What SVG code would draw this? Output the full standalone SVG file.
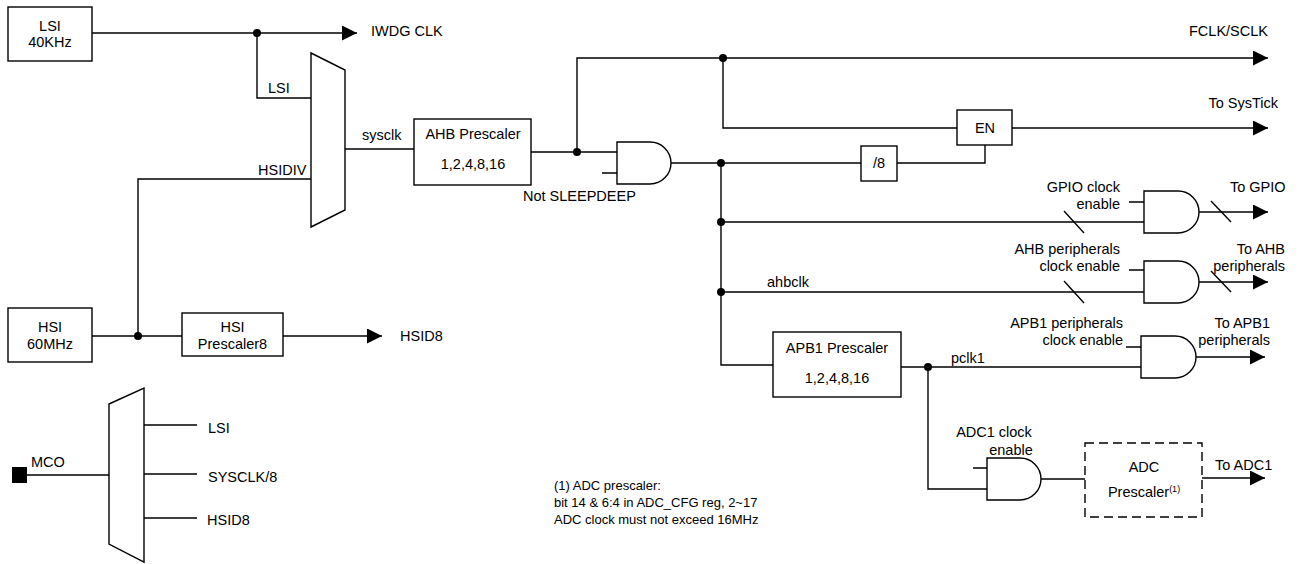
<svg xmlns="http://www.w3.org/2000/svg" width="1305" height="564" viewBox="0 0 1305 564">
<defs>
<marker id="arr" markerWidth="15" markerHeight="15" refX="15" refY="7.5" orient="auto" markerUnits="userSpaceOnUse">
<path d="M0,0 L15,7.5 L0,15 Z" fill="#000"/>
</marker>
</defs>
<style>
text{font-family:"Liberation Sans",Arial,sans-serif;font-size:14.5px;fill:#000}
.c{text-anchor:middle}
.r{text-anchor:end}
.s{font-size:13px}
.box{fill:#fff;stroke:#000;stroke-width:1.4}
.dash{fill:#fff;stroke:#000;stroke-width:1.4;stroke-dasharray:9 5}
.gate{fill:#fff;stroke:#000;stroke-width:1.4}
.w{fill:none;stroke:#000;stroke-width:1.4}
.a{marker-end:url(#arr)}
.dot{fill:#000}
</style>
<rect width="1305" height="564" fill="#fff"/>

<g id="connectors">
<path class="w a" d="M92,33 H357"/>
<path class="w" d="M257,33 V98 H311"/>
<path class="w" d="M345,149 H414"/>
<path class="w" d="M311,179 H138 V336"/>
<path class="w" d="M92,336 H182"/>
<path class="w a" d="M283,336 H382"/>
<path class="w" d="M27,475 H109"/>
<path class="w" d="M144,425 H197 M144,474 H197 M144,518 H197"/>
<path class="w" d="M531,152 H617 M602,173 H617"/>
<path class="w" d="M577,152 V58 H723"/>
<path class="w a" d="M723,58 H1268"/>
<path class="w" d="M723,58 V128 H957"/>
<path class="w a" d="M1012,128 H1268"/>
<path class="w" d="M671,163 H861"/>
<path class="w" d="M897,163 H985 V145"/>
<path class="w" d="M721,163 V365 H773"/>
<path class="w" d="M721,222 H1144 M1129,202 H1144"/>
<path class="w a" d="M1199,212 H1268"/>
<path class="w" d="M1064,211 L1084,233 M1211,201 L1231,222"/>
<path class="w" d="M721,292 H1144 M1129,270 H1144"/>
<path class="w a" d="M1199,282 H1268"/>
<path class="w" d="M1064,281 L1084,303 M1211,271 L1231,292"/>
<path class="w" d="M901,367 H1141 M1126,347 H1141"/>
<path class="w a" d="M1196,357 H1265"/>
<path class="w" d="M928,367 V489 H987 M973,468 H987"/>
<path class="w" d="M1041,479 H1085"/>
<path class="w a" d="M1202,478 H1265"/>
<circle class="dot" cx="257" cy="33" r="4"/>
<circle class="dot" cx="138" cy="336" r="4"/>
<circle class="dot" cx="577" cy="152" r="4"/>
<circle class="dot" cx="723" cy="58" r="4"/>
<circle class="dot" cx="721" cy="163" r="4"/>
<circle class="dot" cx="721" cy="222" r="4"/>
<circle class="dot" cx="721" cy="292" r="4"/>
<circle class="dot" cx="928" cy="367" r="4"/>
</g>

<g id="lsi"><rect class="box" x="8" y="7" width="84" height="54"/><text class="c" x="50" y="31">LSI</text><text class="c" x="50" y="47">40KHz</text></g>
<g id="hsi"><rect class="box" x="8" y="308" width="84" height="54"/><text class="c" x="50" y="332">HSI</text><text class="c" x="50" y="349">60MHz</text></g>
<g id="hsi-prescaler8"><rect class="box" x="182" y="313" width="101" height="43"/><text class="c" x="232.5" y="332">HSI</text><text class="c" x="232.5" y="349">Prescaler8</text></g>
<g id="sysclk-mux"><polygon class="box" points="311,53 345,70 345,210 311,227"/></g>
<g id="mco-mux"><polygon class="box" points="109,404 144,388 144,562 109,544"/></g>
<g id="mco-pin"><rect x="12" y="467" width="15" height="16" fill="#000"/></g>
<g id="ahb-prescaler"><rect class="box" x="414" y="119" width="117" height="66"/><text class="c" x="473" y="139">AHB Prescaler</text><text class="c" x="473" y="169">1,2,4,8,16</text></g>
<g id="gate-sleep"><path class="gate" d="M617,142 H650 A21,21 0 0 1 650,184 H617 Z"/></g>
<g id="div8"><rect class="box" x="861" y="146" width="36" height="35"/><text class="c" x="879" y="168">/8</text></g>
<g id="en"><rect class="box" x="957" y="110" width="55" height="35"/><text class="c" x="985" y="133">EN</text></g>
<g id="gate-gpio"><path class="gate" d="M1144,191 H1178 A21,21 0 0 1 1178,233 H1144 Z"/></g>
<g id="gate-ahb"><path class="gate" d="M1144,261 H1178 A21,21 0 0 1 1178,303 H1144 Z"/></g>
<g id="gate-apb1"><path class="gate" d="M1141,336 H1175 A21,21 0 0 1 1175,378 H1141 Z"/></g>
<g id="apb1-prescaler"><rect class="box" x="773" y="332" width="128" height="65"/><text class="c" x="837" y="353">APB1 Prescaler</text><text class="c" x="837" y="383">1,2,4,8,16</text></g>
<g id="gate-adc"><path class="gate" d="M987,458 H1020 A21,21 0 0 1 1020,500 H987 Z"/></g>
<g id="adc-prescaler"><rect class="dash" x="1085" y="443" width="117" height="74"/><text class="c" x="1144" y="472">ADC</text><text class="c" x="1144" y="497">Prescaler<tspan font-size="9" dy="-5">(1)</tspan></text></g>

<g id="labels">
<text x="371" y="36">IWDG CLK</text>
<text x="268" y="93">LSI</text>
<text x="362" y="140">sysclk</text>
<text x="258" y="175">HSIDIV</text>
<text x="400" y="341">HSID8</text>
<text x="31" y="467">MCO</text>
<text x="208" y="433">LSI</text>
<text x="208" y="482">SYSCLK/8</text>
<text x="207" y="525">HSID8</text>
<text x="523" y="201">Not SLEEPDEEP</text>
<text class="r" x="1268" y="36">FCLK/SCLK</text>
<text class="r" x="1278" y="108">To SysTick</text>
<text class="r" x="1120" y="192">GPIO clock</text>
<text class="r" x="1120" y="209">enable</text>
<text x="1230" y="192">To GPIO</text>
<text class="r" x="1120" y="254">AHB peripherals</text>
<text class="r" x="1120" y="271">clock enable</text>
<text class="r" x="1285" y="254">To AHB</text>
<text class="r" x="1285" y="271">peripherals</text>
<text x="767" y="287">ahbclk</text>
<text class="r" x="1123" y="328">APB1 peripherals</text>
<text class="r" x="1123" y="345">clock enable</text>
<text class="r" x="1270" y="328">To APB1</text>
<text class="r" x="1270" y="345">peripherals</text>
<text x="951" y="363">pclk1</text>
<text class="c" x="994" y="437">ADC1 clock</text>
<text class="c" x="1011" y="455">enable</text>
<text x="1215" y="470">To ADC1</text>
<text class="s" x="554" y="490">(1) ADC prescaler:</text>
<text class="s" x="554" y="507">bit 14 &amp; 6:4 in ADC_CFG reg, 2~17</text>
<text class="s" x="554" y="524">ADC clock must not exceed 16MHz</text>
</g>
</svg>
